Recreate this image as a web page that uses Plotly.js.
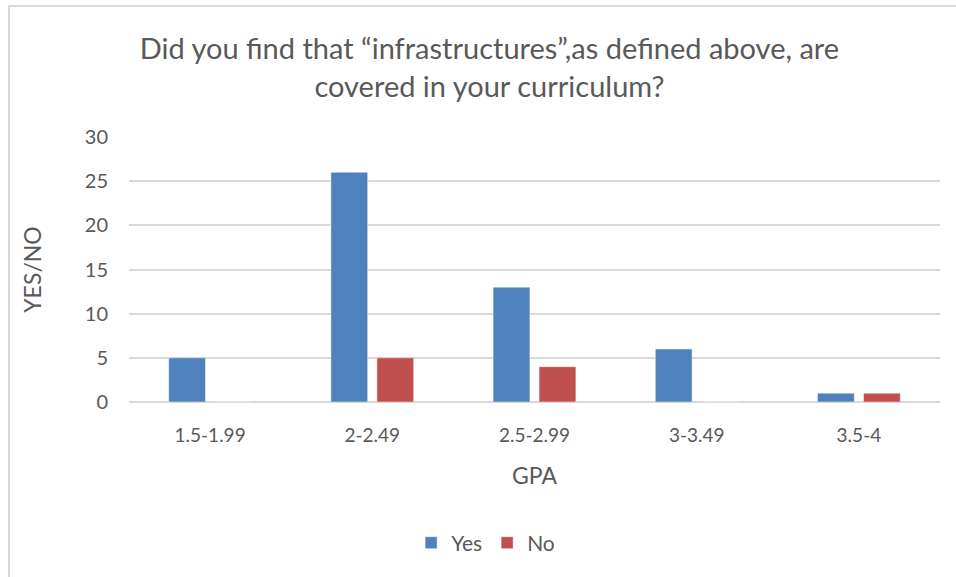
<!DOCTYPE html>
<html>
<head>
<meta charset="utf-8">
<script src="https://cdn.plot.ly/plotly-3.0.1.min.js"></script>
<style>
html,body{margin:0;padding:0;background:#fff;overflow:hidden;}
#wrap{position:relative;width:956px;height:577px;overflow:hidden;}
#frame{position:absolute;left:8px;top:5px;width:2000px;height:2000px;border-left:2px solid #D9D9D9;border-top:2px solid #D9D9D9;}
#chart{position:absolute;left:0;top:0;width:956px;height:577px;}
</style>
</head>
<body>
<div id="wrap"><div id="frame"></div><div id="chart"></div></div>
<script>
const categories = ["1.5-1.99", "2-2.49", "2.5-2.99", "3-3.49", "3.5-4"];
const yesValues = [5, 26, 13, 6, 1];
const noValues = [0, 5, 4, 0, 1];
const yTicks = [0, 5, 10, 15, 20, 25, 30];

const FONT = "Lato, 'Open Sans', sans-serif";
const GREY = "#595959";

const traces = [
  {type: "bar", name: "Yes", x: categories, y: yesValues,
   marker: {color: "#4F81BD", line: {color: "rgba(255,255,255,0.45)", width: 1}}},
  {type: "bar", name: "No", x: categories, y: noValues,
   marker: {color: "#C0504D", line: {color: "rgba(255,255,255,0.45)", width: 1}}}
];

const layout = {
  width: 956, height: 577,
  paper_bgcolor: "rgba(0,0,0,0)", plot_bgcolor: "rgba(0,0,0,0)",
  margin: {l: 129, r: 16, t: 137, b: 175, pad: 0},
  font: {family: FONT, color: GREY, size: 19},
  title: {
    text: "Did you find that “infrastructures”,as defined above, are<br>covered in your curriculum?",
    font: {family: FONT, size: 29, color: GREY, weight: 400},
    xref: "container", x: 0.512, xanchor: "center",
    yref: "container", y: 1 - 59/577, yanchor: "middle"
  },
  barmode: "group", bargap: 0.433, bargroupgap: 0.2,
  xaxis: {
    type: "category",
    showgrid: false, showline: false, zeroline: false,
    ticks: "", ticklabelstandoff: 20,
    tickfont: {family: FONT, size: 19, color: GREY},
    title: {text: "GPA", font: {family: FONT, size: 23, color: GREY}, standoff: 22}
  },
  yaxis: {
    range: [0, 30], tickvals: yTicks, ticktext: yTicks.map(String),
    showgrid: true, gridcolor: "#D9D9D9", gridwidth: 2,
    zeroline: true, zerolinecolor: "#D9D9D9", zerolinewidth: 2,
    showline: false, ticks: "", ticklabelstandoff: 20,
    tickfont: {family: FONT, size: 20, color: GREY},
    title: {text: "YES/NO", font: {family: FONT, size: 23, color: GREY}, standoff: 36}
  },
  legend: {
    orientation: "h", xref: "container", yref: "container",
    x: 0.508, xanchor: "center", y: 1 - 543/577, yanchor: "middle",
    font: {family: FONT, size: 21, color: GREY},
    itemwidth: 30, tracegroupgap: 0
  },
  showlegend: true
};

Plotly.newPlot("chart", traces, layout, {displayModeBar: false, staticPlot: true});
</script>
</body>
</html>
